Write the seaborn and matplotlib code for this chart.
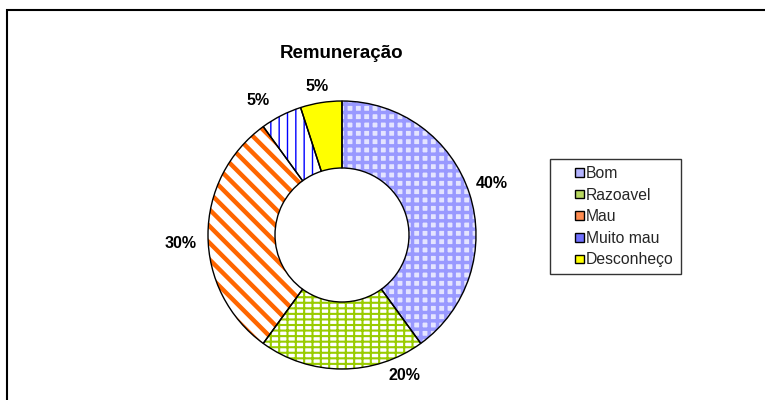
import matplotlib
matplotlib.use("Agg")
import matplotlib.pyplot as plt
import matplotlib.patches as mpatches
from matplotlib.legend_handler import HandlerPatch
import numpy as np
import seaborn as sns

sns.set_theme(style="white")
plt.rcParams['font.family'] = ['Liberation Sans', 'DejaVu Sans']

# ---- data ----
title = "Remuneração"
categories = ["Bom", "Razoavel", "Mau", "Muito mau", "Desconheço"]
values = [40, 20, 30, 5, 5]
labels = ["40%", "20%", "30%", "5%", "5%"]

# ---- style ----
face_colors = ["#e4e4ff", "#ffffff", "#ffffff", "#ffffff", "#ffff00"]
hatch_colors = ["#9999ff", "#99cc00", "#ff6600", "#0000ff", "#ffff00"]
legend_colors = ["#b4b4ff", "#b8d860", "#ff8c50", "#7070ff", "#ffff00"]
hatches = ["++", "---||", "\\\\", "||", None]
hatch_lws = [2.5, 1.5, 3.2, 1.0, 1.0]
label_angle_shift = [1.0, 24, 3, 5, 0.5]
label_dist = [1.18, 1.15, 1.21, 1.18, 1.12]

W, H = 765, 400
fig = plt.figure(figsize=(W / 100, H / 100), dpi=100)
fig.patch.set_facecolor("white")

cx, cy, r = 342, 235, 134
ax = fig.add_axes([(cx - r) / W, (H - cy - r) / H, 2 * r / W, 2 * r / H])
ax.axis("off")

wedges, _ = ax.pie(values, startangle=90, counterclock=False, radius=1,
                   wedgeprops=dict(width=0.5))
ax.set_xlim(-1, 1)
ax.set_ylim(-1, 1)
ax.set_aspect("equal")

for i, w in enumerate(wedges):
    w.set_facecolor(face_colors[i])
    w.set_edgecolor(hatch_colors[i])
    w.set_linewidth(0)
    w.set_clip_on(False)
    if hatches[i]:
        w.set_hatch(hatches[i])
        if hasattr(w, "set_hatch_linewidth"):
            w.set_hatch_linewidth(hatch_lws[i])
    outline = mpatches.Wedge((0, 0), 1, w.theta1, w.theta2, width=0.5,
                             fill=False, edgecolor="black", linewidth=1.0,
                             zorder=3)
    ax.add_patch(outline)
    outline.set_clip_on(False)
    mid = np.deg2rad((w.theta1 + w.theta2) / 2 + label_angle_shift[i])
    d = label_dist[i]
    t = ax.text(d * np.cos(mid), d * np.sin(mid), labels[i], ha="center",
                va="center", fontsize=11.5, fontweight="bold", color="black")
    t.set_clip_on(False)

fig.text(cx / W, 1 - 53 / H, title, ha="center", va="center",
         fontsize=13.5, fontweight="bold", color="black")


def square_handle(legend, orig_handle, xdescent, ydescent, width, height, fontsize):
    s = 0.55 * fontsize
    return mpatches.Rectangle((width - s - xdescent, -ydescent + (height - s) / 2),
                              s, s)


handles = [mpatches.Patch(facecolor=legend_colors[i], edgecolor="black",
                          linewidth=1.0, label=c)
           for i, c in enumerate(categories)]
leg = fig.legend(handles=handles, loc="upper left",
                 bbox_to_anchor=(550 / W, 1 - 159 / H),
                 frameon=True, fancybox=False, shadow=False,
                 fontsize=11.3, handlelength=1.7, handleheight=0.7,
                 handletextpad=0.15, labelspacing=0.42, borderpad=0.45,
                 borderaxespad=0,
                 handler_map={mpatches.Patch: HandlerPatch(patch_func=square_handle)})
leg.get_frame().set_edgecolor("black")
leg.get_frame().set_linewidth(1.0)

border = mpatches.Rectangle((7 / W, -0.05), 1.2, 1 - 10 / H + 0.05,
                            transform=fig.transFigure, fill=False,
                            edgecolor="black", linewidth=1.5)
fig.patches.append(border)

fig.savefig("out.png", dpi=100)
